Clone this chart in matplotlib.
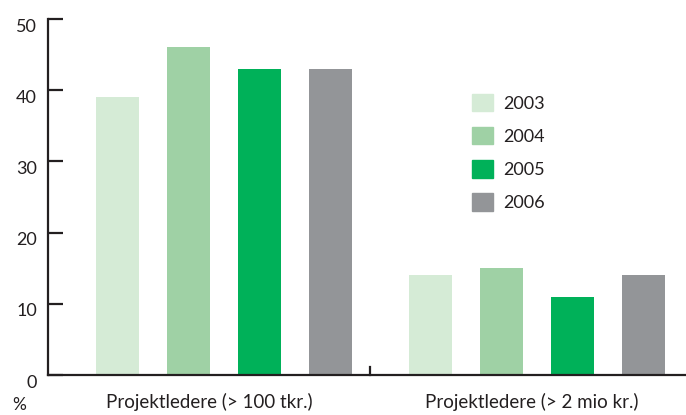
import matplotlib
matplotlib.use("Agg")
import matplotlib.pyplot as plt
import matplotlib.transforms as mtransforms
from matplotlib.patches import Patch

# --- data ---------------------------------------------------------------------
groups = ["Projektledere (> 100 tkr.)", "Projektledere (> 2 mio kr.)"]
years = ["2003", "2004", "2005", "2006"]
values_2003 = [39, 14]
values_2004 = [46, 15]
values_2005 = [43, 11]
values_2006 = [43, 14]
series = [values_2003, values_2004, values_2005, values_2006]
colors = ["#d5ebd6", "#9fd1a5", "#00b159", "#939598"]

INK = "#231f20"
plt.rcParams["font.family"] = ["Lato", "DejaVu Sans"]

fig = plt.figure(figsize=(6.86, 4.15), dpi=100)
ax = fig.add_axes([48 / 686, 40 / 415, 1 - 48 / 686, (375 - 19) / 415])

centers = [2.48, 6.89]
offsets = [-1.5, -0.5, 0.5, 1.5]
for vals, off, col, yr in zip(series, offsets, colors, years):
    ax.bar([c + off for c in centers], vals, width=0.6, color=col, label=yr)

ax.set_xlim(0, 8.99)
ax.set_ylim(0, 50)

for s in ("top", "right"):
    ax.spines[s].set_visible(False)
for s in ("left", "bottom"):
    ax.spines[s].set_color(INK)
    ax.spines[s].set_linewidth(1.6)

ax.set_yticks([0, 10, 20, 30, 40, 50])
ax.tick_params(axis="y", direction="in", length=11, width=1.6, color=INK,
               labelsize=13, labelcolor=INK, pad=8)
# group labels sit a little left of the bar-group centres in the original
ax.set_xticks([2.28, 6.82])
ax.set_xticklabels(groups)
ax.tick_params(axis="x", length=0, labelsize=13.5, labelcolor=INK, pad=13)

# shift y labels a bit down like the original
shift = mtransforms.ScaledTranslation(0, -6 / 100, fig.dpi_scale_trans)
for lbl in ax.get_yticklabels():
    lbl.set_transform(lbl.get_transform() + shift)

# separator tick between groups
ax.plot([4.535, 4.535], [0, 1.1], color=INK, lw=1.6, clip_on=False)

fig.text(12 / 686, 1 - 405 / 415, "%", fontsize=12.5, color=INK, va="center")

handles = [Patch(color=c) for c in colors]
ax.legend(handles, years, loc="upper left", bbox_to_anchor=(472 / 686, 1 - 94 / 415),
          bbox_transform=fig.transFigure, frameon=False, fontsize=13,
          handlelength=1.17, handleheight=1.1, labelspacing=0.85,
          handletextpad=0.55, borderpad=0, borderaxespad=0, labelcolor=INK)

fig.savefig("out.png", dpi=100)
